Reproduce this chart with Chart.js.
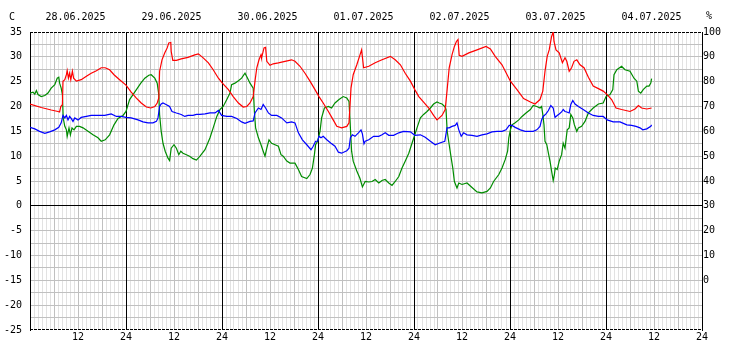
<!DOCTYPE html>
<html>
<head>
<meta charset="utf-8">
<script src="https://cdn.jsdelivr.net/npm/chart.js@4/dist/chart.umd.min.js"></script>
<style>
html,body{margin:0;padding:0;background:#fff;}
#wrap{width:732px;height:360px;position:relative;}
</style>
</head>
<body>
<div id="wrap"><canvas id="c" width="732" height="360"></canvas></div>
<script>
// Day labels (top axis, one per day, centred at 12:00)
const dates = ['28.06.2025','29.06.2025','30.06.2025','01.07.2025','02.07.2025','03.07.2025','04.07.2025'];
const leftUnit = 'C';
const rightUnit = '%';

// Temperature (°C), hours since 28.06 00:00
const tempHours = [0,2.8,5.3,7,7.4,7.7,8.1,8.25,8.7,9.1,9.3,9.6,9.9,10.2,10.6,10.9,11.6,12.8,14.1,15.3,16.6,17.8,18.8,19.9,21,22.4,24,25.3,26.6,27.8,29.1,30.2,31.2,31.8,32.2,32.4,33,33.7,34.3,34.7,35.2,35.3,35.7,36.6,37.8,39.5,41.2,42.1,43.3,44.6,45.8,47.1,48.1,49.6,50.8,52.1,53.3,54.2,55,55.8,56.25,56.7,57.25,57.75,57.9,58.5,58.9,59.2,60,60.8,62.1,63.75,65.4,66.25,67.5,68.75,70,71.25,72.25,73.3,74.6,75.8,76.7,77.9,79.2,79.75,80.25,80.8,81.7,82.5,82.9,83.4,84.7,86.3,88,90.1,91.3,92.6,93.8,95.1,96.2,97.2,98.4,99.7,100.9,101.75,103,103.8,104.25,104.8,105.5,106.1,106.6,107,107.3,108,109.7,111.75,114,115.1,116.3,118,120.1,121.75,123.4,125.1,126.25,127.5,128.2,128.75,129.3,129.8,130.4,130.8,131,131.5,132.3,133.1,133.75,134.2,134.8,135.4,136,136.7,137.5,138.5,139.6,140.8,142.1,143.3,144.3,145.4,146.5,147.9,150,151.25,152.1,152.9,154.2,155.4];
const tempValues = [20.5,19.8,19.3,19.0,18.9,20.0,20.4,25.1,25.4,26.4,27.2,25.7,26.7,25.4,27.1,25.7,25.1,25.4,26.1,26.7,27.2,27.8,27.8,27.4,26.4,25.4,24.3,22.9,21.7,20.7,19.9,19.7,20.0,20.7,21.7,27.1,29.4,30.8,31.8,32.8,32.9,31.1,29.3,29.3,29.6,29.9,30.4,30.6,29.8,28.8,27.4,25.7,24.7,23.4,22.0,20.7,19.9,20.0,20.7,22.0,25.1,27.8,29.4,30.4,29.8,31.8,31.9,29.1,28.3,28.6,28.8,29.1,29.4,29.1,28.1,26.7,25.1,23.4,22.0,20.7,19.0,17.3,16.0,15.7,16.0,16.7,23.7,26.4,28.4,30.4,31.4,27.8,28.1,28.8,29.4,30.1,29.4,28.4,26.7,25.1,23.4,22.0,20.9,19.7,18.2,17.3,18.2,19.4,23.1,27.8,30.4,32.1,33.1,33.5,30.3,30.1,30.8,31.4,32.1,31.6,30.1,28.4,25.1,23.4,21.6,20.9,20.5,21.4,23.1,27.1,30.1,31.4,34.1,35.0,33.1,31.4,30.8,28.8,29.8,29.1,27.1,27.8,29.1,29.4,28.4,27.8,25.9,24.1,23.6,23.1,22.4,21.4,19.7,19.4,19.0,19.5,20.2,19.7,19.5,19.7];

// Relative humidity (%), right axis
const humHours = [0,0.75,1.2,1.6,2,2.8,3.7,4.5,5.3,6.2,6.8,7.2,7.4,7.8,8.1,8.3,8.7,9.1,9.3,9.75,10.1,10.5,11,11.6,12.4,13.25,14.5,15.75,17,17.8,18.8,19.9,21,22,23.25,24,24.9,25.75,26.6,27.7,28.7,29.7,30.3,31.2,31.8,32.2,32.4,32.8,33.25,33.8,34.5,34.9,35.3,36,36.6,37.2,37.7,38.25,39.1,39.9,40.75,41.6,42.5,43.75,45,45.8,46.7,47.5,48.3,49.2,50,50.4,51.25,52.1,52.9,53.75,54.4,55,55.8,56.1,56.4,57.1,57.75,58.3,58.75,59.2,59.75,60.4,61.25,62.1,62.75,63.3,64.2,65,66.25,67.1,67.9,69.2,70,70.6,71.1,71.4,71.9,72.5,72.9,73.6,74.6,75.4,76.25,77.25,78.3,79.2,79.75,80.1,80.4,80.8,81.7,82.5,83.1,83.8,84.7,85.5,86.3,87.2,88,88.8,89.7,90.5,91.3,92.2,93,93.8,94.7,95.5,96.2,96.75,97.6,98.4,99.25,100.1,100.9,101.75,102.3,103,103.7,104,104.3,104.8,105.3,105.7,106.1,106.75,107.2,108,109.25,110.5,111.75,113,114.25,115.1,115.9,117.2,118,118.8,119.4,119.7,120.1,120.5,121.2,122.2,123,124,125.1,125.8,126.7,127.5,127.9,128.2,128.5,128.75,129.2,129.6,130,130.4,130.8,131.1,131.3,131.8,132.3,132.9,133.3,133.75,134.3,134.8,135.2,135.7,136.1,136.7,137.1,137.9,138.75,139.6,140.8,142.1,143.3,144,145,145.7,146,146.7,147.9,148.75,150,151,151.7,152.1,152.7,153.3,154.2,154.75,155.2,155.4];
const humValues = [75.4,75.8,75.0,76.4,74.8,74.0,74.4,75.4,77.4,78.8,81.4,81.8,79.4,77.4,74.8,65.4,62.0,60.6,58.0,61.4,58.6,61.4,60.6,62.0,62.0,61.4,60.0,58.6,57.4,56.0,56.6,58.6,62.6,65.2,66.4,68.0,72.8,74.8,76.8,79.4,81.4,82.6,82.8,81.4,79.4,74.8,66.8,60.0,55.2,52.0,49.2,48.2,53.2,54.6,53.2,50.6,52.0,51.2,50.6,50.0,49.0,48.4,50.0,52.6,57.4,61.4,66.0,68.8,70.0,72.8,75.4,78.8,79.4,80.4,81.4,83.4,81.4,79.4,77.4,68.0,61.4,57.4,54.6,52.0,50.0,53.2,56.6,55.2,54.6,54.0,50.6,50.0,48.0,47.2,47.2,44.6,41.8,41.0,42.6,45.2,50.6,54.6,56.0,60.0,65.4,69.4,70.0,69.4,71.4,72.8,74.0,73.4,72.0,61.4,52.0,48.0,44.0,41.0,37.6,39.8,39.6,39.8,40.6,39.2,40.2,40.6,39.2,38.2,39.8,41.8,45.2,48.0,51.2,55.2,58.6,61.4,65.4,66.8,68.0,69.4,71.0,71.8,71.4,71.0,70.0,68.8,60.0,54.6,49.2,45.2,39.8,37.2,39.2,38.6,39.2,37.4,35.6,35.2,35.8,37.2,39.8,42.6,45.2,48.6,52.0,57.4,60.6,62.6,63.4,64.6,66.0,67.4,68.8,70.4,70.0,69.4,70.0,66.8,62.6,56.0,54.6,51.2,48.0,44.0,40.2,42.6,45.2,44.6,48.0,50.6,55.2,53.2,60.6,61.4,66.8,65.4,62.6,60.0,61.4,62.0,64.0,67.4,69.4,71.0,71.4,74.0,74.8,76.8,82.8,84.8,86.2,84.8,84.2,81.4,80.2,76.2,75.4,76.8,78.2,78.2,79.4,81.2];

// Dew point (°C), left axis
const dewHours = [0,1.2,2.4,3.7,4.9,6.2,7.2,7.8,8.25,8.7,9.1,9.5,9.9,10.3,10.75,11.2,12,12.8,14.1,15.3,17,18.7,20.3,21.6,22.8,24,25.3,27,28.25,29.5,30.75,31.6,32,32.4,32.8,33.25,34,34.9,35.5,36.6,37.8,38.7,39.5,40.75,41.6,42.5,43.75,45,46.25,47.1,47.9,49.2,50.4,51.7,52.9,53.75,55,55.8,56.25,57.1,57.75,58.3,58.9,59.6,60.4,61.7,62.9,64.2,65.4,66.25,67.1,68.1,69.2,70.25,70.8,71.4,71.9,72.25,72.75,73.3,74.2,75.25,76.25,77.1,77.9,79.2,79.75,80.1,80.6,81.25,82.1,82.75,83.1,83.5,83.8,84.7,85.9,87.2,88,88.8,89.7,90.9,92.2,93.4,95.1,96.2,97.6,98.8,100.1,101.3,102.6,103.7,104.25,104.8,105.5,106.3,106.75,107.2,107.8,108.4,109.25,110.5,111.75,113,114.25,115.5,116.75,118,119,119.8,120.5,121.3,122.6,123.8,125,125.8,126.7,127.5,127.9,128.3,129,129.6,130.2,130.8,131.25,131.8,132.3,132.9,133.3,133.75,134.2,134.8,135.2,135.7,136.25,137.1,138.3,139.6,140.8,142.1,143.3,144.3,145.8,147.5,149.2,150.4,151.5,152.5,153.2,154.2,155.2,155.4];
const dewValues = [15.8,15.5,15.0,14.6,14.9,15.3,15.8,16.7,18.2,17.7,18.2,17.3,18.0,17.6,17.0,17.7,17.3,17.8,18.0,18.2,18.2,18.2,18.5,18.0,18.0,17.8,17.7,17.3,16.9,16.7,16.7,17.0,17.7,20.0,20.5,20.7,20.4,20.0,19.0,18.7,18.4,18.0,18.2,18.2,18.4,18.4,18.5,18.7,18.7,19.2,18.2,18.0,18.0,17.6,16.9,16.6,17.0,17.1,18.7,19.7,19.4,20.4,19.7,18.7,18.2,18.2,17.7,16.7,16.9,16.7,14.7,13.3,12.3,11.3,12.0,13.0,13.0,14.0,13.7,14.0,13.3,12.6,12.0,10.8,10.6,11.1,11.6,13.7,14.3,14.0,14.7,15.3,14.5,12.5,13.0,13.3,14.0,14.0,14.3,14.7,14.2,14.2,14.7,15.0,14.9,14.2,14.3,13.8,13.0,12.3,12.7,13.0,15.7,15.7,16.0,16.2,16.7,15.3,14.0,14.7,14.3,14.2,14.0,14.3,14.5,14.9,15.0,15.0,15.3,16.2,16.2,15.8,15.3,15.0,15.0,15.0,15.3,16.0,17.3,18.0,18.5,19.2,20.2,19.7,17.8,18.2,18.5,18.9,19.4,19.0,18.9,18.7,20.4,21.2,20.5,20.0,19.4,18.7,18.2,18.0,18.0,17.3,16.9,16.9,16.3,16.2,16.0,15.7,15.3,15.5,16.0,16.3];

const toPts = (xs, ys) => xs.map((x, i) => ({x: x, y: ys[i]}));

Chart.defaults.font.family = '"DejaVu Sans Mono", monospace';
Chart.defaults.font.size = 10;
Chart.defaults.color = '#000';

// Unit captions and the dashed top/bottom frame of the plot area
const frameAndUnits = {
  id: 'frameAndUnits',
  beforeDatasetsDraw(chart) {
    const {ctx, chartArea: a} = chart;
    ctx.save();
    ctx.strokeStyle = '#000';
    ctx.lineWidth = 1;
    ctx.setLineDash([3, 1]);
    ctx.beginPath();
    ctx.moveTo(a.left, Math.round(a.top) + 0.5);
    ctx.lineTo(a.right, Math.round(a.top) + 0.5);
    ctx.moveTo(a.left, Math.round(a.bottom) - 0.5);
    ctx.lineTo(a.right, Math.round(a.bottom) - 0.5);
    ctx.stroke();
    ctx.restore();
  },
  afterDraw(chart) {
    const ctx = chart.ctx;
    ctx.save();
    ctx.font = '10px "DejaVu Sans Mono", monospace';
    ctx.fillStyle = '#000';
    ctx.textAlign = 'center';
    ctx.textBaseline = 'middle';
    ctx.fillText(leftUnit, 12, 17);
    ctx.fillText(rightUnit, 709, 16);
    ctx.restore();
  }
};

new Chart(document.getElementById('c'), {
  type: 'line',
  data: {
    datasets: [
      {label: 'Temperatur', data: toPts(tempHours, tempValues), borderColor: '#ff0000', yAxisID: 'y'},
      {label: 'Taupunkt', data: toPts(dewHours, dewValues), borderColor: '#0000ff', yAxisID: 'y'},
      {label: 'Feuchte', data: toPts(humHours, humValues), borderColor: '#008c00', yAxisID: 'y2'}
    ]
  },
  options: {
    responsive: false,
    animation: false,
    events: [],
    layout: {padding: 0},
    elements: {
      point: {radius: 0},
      line: {borderWidth: 1.2, tension: 0, fill: false}
    },
    plugins: {legend: {display: false}, tooltip: {enabled: false}},
    scales: {
      // hourly / 6-hourly vertical grid + bottom hour labels (drawn first)
      x: {
        type: 'linear', position: 'bottom', min: 0, max: 168,
        afterFit: (s) => { s.height = 30; },
        afterBuildTicks: (s) => { const t = []; for (let h = 0; h <= 168; h++) t.push({value: h}); s.ticks = t; },
        ticks: {
          autoSkip: false, maxRotation: 0, minRotation: 0, padding: 1,
          callback: (v) => (v > 0 && v % 24 === 0) ? '24' : (v % 12 === 0 && v > 0 ? '12' : '')
        },
        grid: {
          z: -3, drawTicks: false, lineWidth: 1,
          color: (c) => { const v = c.tick.value; return v % 6 === 0 ? '#c0c0c0' : '#e2e2e2'; }
        },
        border: {display: false}
      },
      y: {
        type: 'linear', position: 'left', min: -25, max: 35,
        afterFit: (s) => { s.width = 30; },
        afterBuildTicks: (s) => { const t = []; for (let v = -25; v <= 35; v += 2.5) t.push({value: v}); s.ticks = t; },
        ticks: {autoSkip: false, padding: 8, callback: (v) => (v % 5 === 0) ? String(v) : ''},
        grid: {
          z: -2, drawTicks: false, lineWidth: 1,
          color: (c) => { const v = c.tick.value; return v === 0 ? '#000000' : ((v === 35 || v === -25) ? 'rgba(0,0,0,0)' : '#c0c0c0'); }
        },
        border: {display: true, color: '#000', width: 1}
      },
      y2: {
        type: 'linear', position: 'right', min: -20, max: 100,
        afterFit: (s) => { s.width = 30; },
        afterBuildTicks: (s) => { const t = []; for (let v = -20; v <= 100; v += 10) t.push({value: v}); s.ticks = t; },
        ticks: {autoSkip: false, padding: 1, callback: (v) => v >= 0 ? String(v) : ''},
        grid: {display: false, drawTicks: false},
        border: {display: true, color: '#000', width: 1}
      },
      // day boundaries (black) + date labels, drawn over the other grids
      x2: {
        type: 'linear', position: 'top', min: 0, max: 168,
        afterFit: (s) => { s.height = 32; },
        afterBuildTicks: (s) => { const t = []; for (let h = 0; h <= 168; h += 12) t.push({value: h}); s.ticks = t; },
        ticks: {autoSkip: false, maxRotation: 0, padding: 9, labelOffset: -2.5,
          callback: (v) => (v % 24 === 12) ? dates[(v - 12) / 24] : '' },
        grid: {
          z: -1, drawTicks: false, lineWidth: 1,
          color: (c) => (c.tick.value % 24 === 0) ? '#000000' : 'rgba(0,0,0,0)'
        },
        border: {display: false}
      }
    }
  },
  plugins: [frameAndUnits]
});
</script>
</body>
</html>
